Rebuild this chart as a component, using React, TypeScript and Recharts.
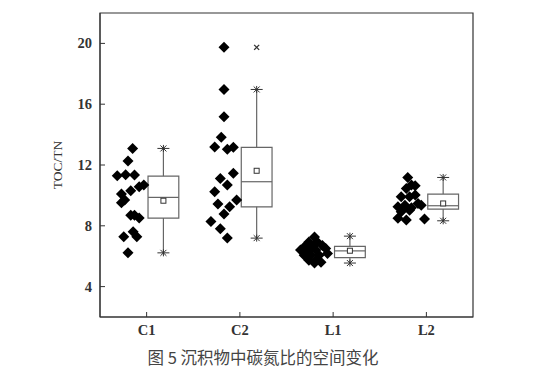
import React from "react"
import {
  ComposedChart,
  Scatter,
  XAxis,
  YAxis,
  ReferenceArea,
  ReferenceLine,
} from "recharts"

const categories = ["C1", "C2", "L1", "L2"]

// jitter offset (in category units from the tick) and TOC/TN value
const c1Points: [number, number][] = [
  [-0.15, 13.09], [-0.2, 12.26], [-0.315, 11.29], [-0.225, 11.36], [-0.13, 11.34],
  [-0.17, 10.3], [-0.08, 10.57], [-0.03, 10.68], [-0.27, 10.09], [-0.27, 9.52],
  [-0.235, 9.69], [-0.17, 8.7], [-0.13, 8.7], [-0.08, 8.51], [-0.245, 7.28],
  [-0.145, 7.61], [-0.105, 7.28], [-0.2, 6.22],
]
const c2Points: [number, number][] = [
  [-0.17, 19.74], [-0.17, 16.97], [-0.17, 15.17], [-0.2, 13.82], [-0.27, 13.18],
  [-0.135, 13.03], [-0.07, 13.16], [-0.21, 11.12], [-0.07, 11.45], [-0.135, 10.68],
  [-0.27, 10.24], [-0.235, 9.43], [-0.035, 9.69], [-0.11, 9.25], [-0.17, 8.77],
  [-0.31, 8.29], [-0.21, 7.8], [-0.135, 7.19],
]
const l1Points: [number, number][] = [
  [-0.2, 7.27], [-0.26, 6.94], [-0.17, 6.94], [-0.31, 6.6], [-0.22, 6.6],
  [-0.115, 6.71], [-0.35, 6.4], [-0.275, 6.4], [-0.185, 6.4], [-0.08, 6.51],
  [-0.06, 6.18], [-0.31, 6.07], [-0.24, 6.07], [-0.15, 6.07], [-0.26, 5.74],
  [-0.185, 5.74], [-0.2, 5.55], [-0.13, 5.6],
]
const l2Points: [number, number][] = [
  [-0.2, 11.18], [-0.16, 10.68], [-0.215, 10.46], [-0.12, 10.63], [-0.27, 9.91],
  [-0.18, 9.91], [-0.12, 10.02], [-0.305, 9.25], [-0.23, 9.36], [-0.16, 9.19],
  [-0.09, 9.47], [-0.055, 9.36], [-0.27, 8.92], [-0.18, 9.03], [-0.305, 8.49],
  [-0.215, 8.38], [-0.02, 8.44],
]
const allPoints = [c1Points, c2Points, l1Points, l2Points]

const q1 = [8.51, 9.25, 5.9, 9.1]
const median = [9.87, 10.9, 6.35, 9.32]
const q3 = [11.27, 13.16, 6.64, 10.09]
const whiskerLow = [6.22, 7.19, 5.55, 8.33]
const whiskerHigh = [13.09, 16.97, 7.32, 11.18]
const means = [9.65, 11.62, 6.36, 9.47]
const outliers: [number, number][] = [[1, 19.74]]

const yTicks = [4, 8, 12, 16, 20]
const xTicks = categories.map((_, i) => i + 0.5)

const BOX_OFFSET = 0.18
const BOX_HALF = 0.165

const scatterData = allPoints.flatMap((pts, i) =>
  pts.map(([dx, v]) => ({ x: i + 0.5 + dx, y: v }))
)
const boxCenter = (i: number) => i + 0.5 + BOX_OFFSET
const meanData = means.map((v, i) => ({ x: boxCenter(i), y: v }))
const capData = categories.flatMap((_, i) => [
  { x: boxCenter(i), y: whiskerLow[i] },
  { x: boxCenter(i), y: whiskerHigh[i] },
])
const outlierData = outliers.map(([i, v]) => ({ x: boxCenter(i), y: v }))

const serif = "'Liberation Serif', 'DejaVu Serif', serif"
const boxStroke = "#666"

const Diamond = (p: any) => {
  const { cx, cy } = p
  const r = 5.5
  return (
    <polygon
      points={`${cx},${cy - r} ${cx + r},${cy} ${cx},${cy + r} ${cx - r},${cy}`}
      fill="#000"
    />
  )
}

const MeanMark = (p: any) => (
  <rect x={p.cx - 2.5} y={p.cy - 2.5} width={5} height={5} fill="#fff" stroke="#333" strokeWidth={1} />
)

const CapMark = (p: any) => {
  const { cx, cy } = p
  return (
    <g stroke="#333" strokeWidth={1}>
      <line x1={cx - 6} x2={cx + 6} y1={cy} y2={cy} />
      <line x1={cx - 3} x2={cx + 3} y1={cy - 3} y2={cy + 3} />
      <line x1={cx - 3} x2={cx + 3} y1={cy + 3} y2={cy - 3} />
      <line x1={cx} x2={cx} y1={cy - 3.5} y2={cy + 3.5} />
    </g>
  )
}

const CrossMark = (p: any) => {
  const { cx, cy } = p
  return (
    <g stroke="#333" strokeWidth={1.3}>
      <line x1={cx - 2.5} x2={cx + 2.5} y1={cy - 2.5} y2={cy + 2.5} />
      <line x1={cx - 2.5} x2={cx + 2.5} y1={cy + 2.5} y2={cy - 2.5} />
    </g>
  )
}

const XTick = (p: any) => {
  const { x, y, payload } = p
  return (
    <g>
      <line x1={x} x2={x} y1={y - 8} y2={y - 13} stroke="#333" />
      <text x={x} y={y} dy="0.72em" textAnchor="middle" fontFamily={serif} fontSize={14.5} fontWeight="bold" fill="#333">
        {categories[Math.floor(payload.value)]}
      </text>
    </g>
  )
}

const YTick = (p: any) => {
  const { x, y, payload } = p
  return (
    <g>
      <line x1={x + 8} x2={x + 13} y1={y} y2={y} stroke="#333" />
      <text x={x} y={y} dy="0.35em" textAnchor="end" fontFamily={serif} fontSize={14.5} fontWeight="bold" fill="#333">
        {payload.value}
      </text>
    </g>
  )
}

const YLabel = (p: any) => {
  const vb = p.viewBox || {}
  const cy = (vb.y ?? 13) + (vb.height ?? 304) / 2
  return (
    <text x={62} y={cy} transform={`rotate(-90 62 ${cy})`} textAnchor="middle" fontFamily={serif} fontSize={13.5} fill="#333">
      TOC/TN
    </text>
  )
}

export default function App() {
  return (
    <div style={{ position: "absolute", left: 0, top: 0, width: 552, height: 371, background: "#fff" }}>
      <ComposedChart width={552} height={371} margin={{ top: 13, right: 79, bottom: 24, left: 0 }}>
        <XAxis
          type="number"
          dataKey="x"
          domain={[0, 4]}
          ticks={xTicks}
          tick={<XTick />}
          tickSize={0}
          tickMargin={8}
          height={30}
          stroke="#333"
          allowDataOverflow
        />
        <YAxis
          type="number"
          dataKey="y"
          domain={[2, 22]}
          ticks={yTicks}
          tick={<YTick />}
          tickSize={0}
          tickMargin={8}
          width={100}
          stroke="#333"
          allowDataOverflow
          label={{ content: <YLabel /> }}
        />
        <ReferenceArea x1={0} x2={4} y1={2} y2={22} fill="none" stroke="#333" strokeWidth={1.2} />
        {categories.map((c, i) => (
          <ReferenceArea
            key={`box-${c}`}
            x1={boxCenter(i) - BOX_HALF}
            x2={boxCenter(i) + BOX_HALF}
            y1={q1[i]}
            y2={q3[i]}
            fill="none"
            fillOpacity={0}
            stroke={boxStroke}
            strokeWidth={1.2}
          />
        ))}
        {categories.map((c, i) => (
          <ReferenceLine
            key={`med-${c}`}
            segment={[
              { x: boxCenter(i) - BOX_HALF, y: median[i] },
              { x: boxCenter(i) + BOX_HALF, y: median[i] },
            ]}
            stroke={boxStroke}
            strokeWidth={1.2}
          />
        ))}
        {categories.map((c, i) => (
          <ReferenceLine
            key={`wu-${c}`}
            segment={[
              { x: boxCenter(i), y: q3[i] },
              { x: boxCenter(i), y: whiskerHigh[i] },
            ]}
            stroke={boxStroke}
            strokeWidth={1.2}
          />
        ))}
        {categories.map((c, i) => (
          <ReferenceLine
            key={`wl-${c}`}
            segment={[
              { x: boxCenter(i), y: q1[i] },
              { x: boxCenter(i), y: whiskerLow[i] },
            ]}
            stroke={boxStroke}
            strokeWidth={1.2}
          />
        ))}
        <Scatter data={scatterData} shape={<Diamond />} isAnimationActive={false} />
        <Scatter data={meanData} shape={<MeanMark />} isAnimationActive={false} />
        <Scatter data={capData} shape={<CapMark />} isAnimationActive={false} />
        <Scatter data={outlierData} shape={<CrossMark />} isAnimationActive={false} />
      </ComposedChart>
      <div
        style={{
          position: "absolute",
          left: 0,
          width: 526,
          top: 345,
          textAlign: "center",
          fontFamily: "'Noto Sans CJK SC', sans-serif",
          fontSize: 16.5,
          color: "#444",
          whiteSpace: "nowrap",
        }}
      >
        图 5 沉积物中碳氮比的空间变化
      </div>
    </div>
  )
}
